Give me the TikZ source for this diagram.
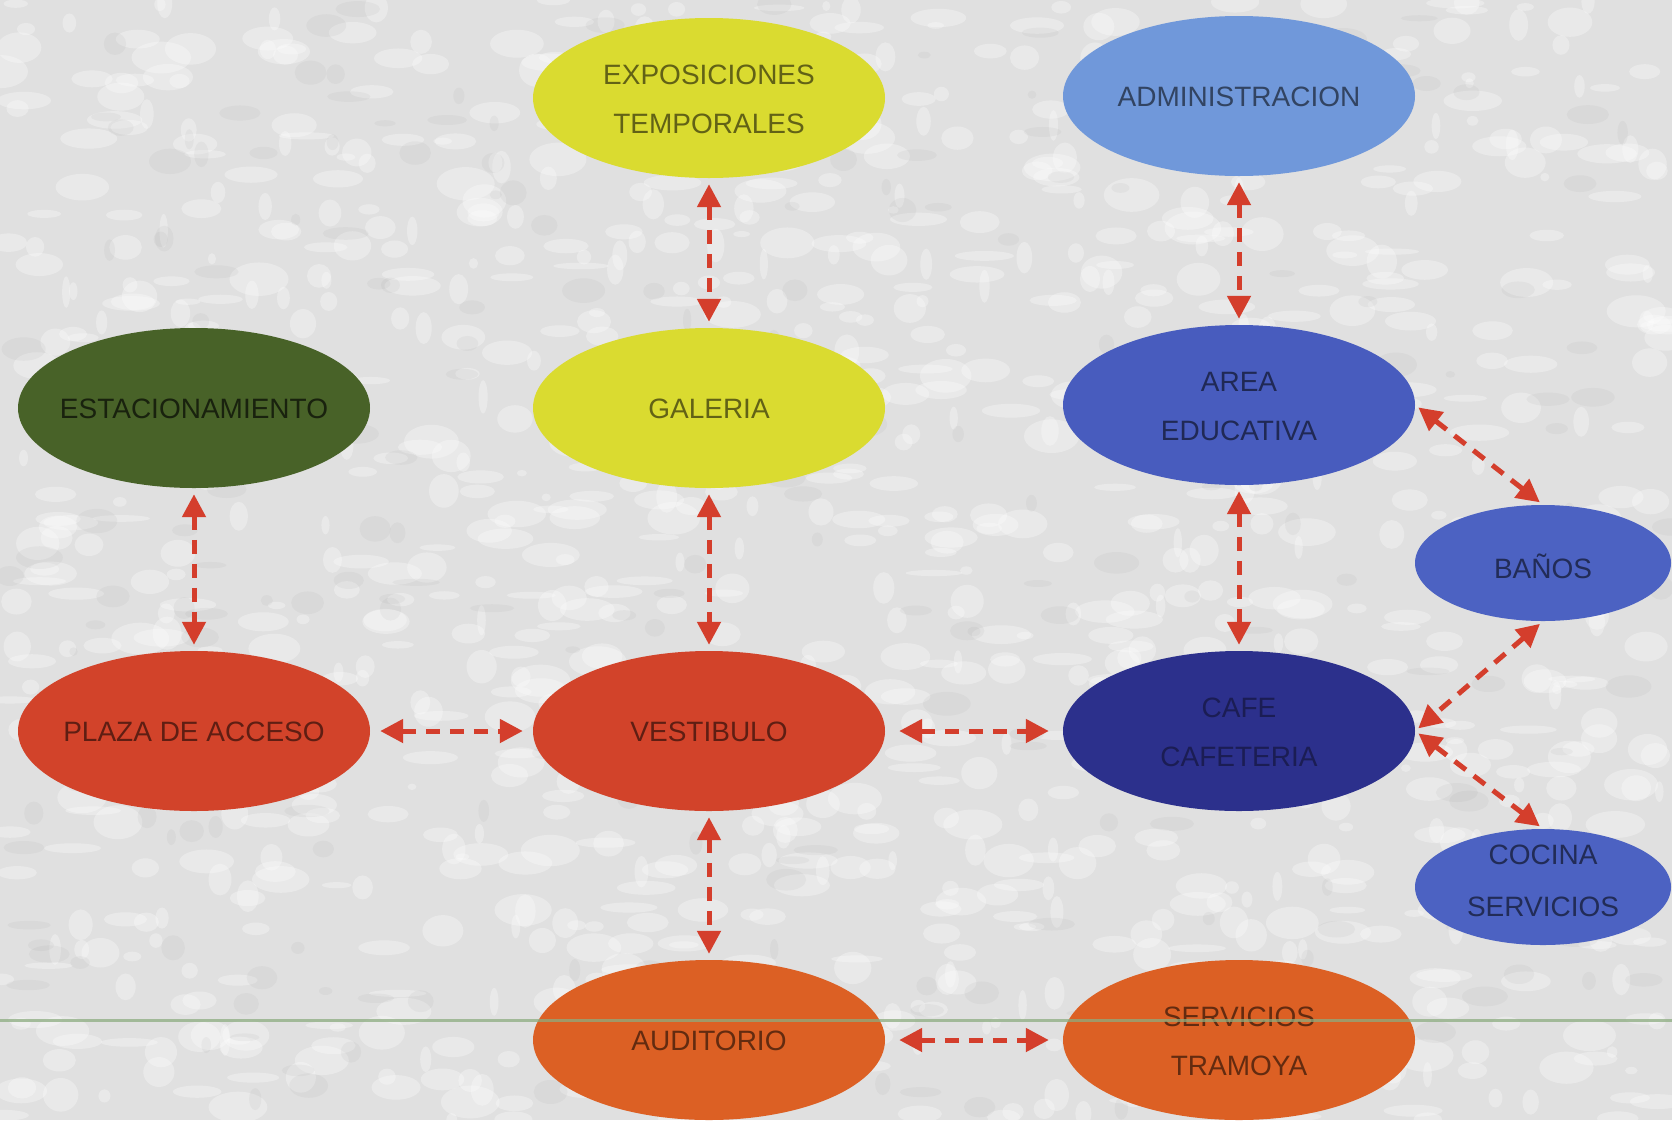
\documentclass[tikz,border=0pt]{standalone}
\usepackage{fontspec}
\setmainfont{Liberation Sans}
\usetikzlibrary{shapes.geometric,arrows.meta}
\definecolor{cyel}{RGB}{218,219,48}
\definecolor{cadm}{RGB}{112,152,218}
\definecolor{cgreen}{RGB}{72,98,40}
\definecolor{cblue}{RGB}{72,92,190}
\definecolor{cblue2}{RGB}{76,98,194}
\definecolor{cnavy}{RGB}{44,48,140}
\definecolor{cred}{RGB}{210,67,42}
\definecolor{corange}{RGB}{220,96,36}
\definecolor{carrow}{RGB}{212,62,44}
\definecolor{cbg}{RGB}{224,224,224}
\definecolor{cline}{RGB}{140,172,128}
\newcommand{\ctext}[2][-7pt]{\makebox[0pt]{\smash{\raisebox{#1}{\begin{tabular}{@{}c@{}}#2\end{tabular}}}}}
\tikzset{
  zone/.style={ellipse, fill=#1, text=#1!45!black, minimum width=352pt, minimum height=160pt,
    inner sep=0pt, font=\fontsize{28}{49}\selectfont},
  szone/.style={zone=#1, minimum width=256pt, minimum height=116pt, font=\fontsize{28}{52}\selectfont},
  link/.style={draw=carrow, line width=5pt, dash pattern=on 14pt off 10pt,
    {Triangle[length=23pt,width=23pt]}-{Triangle[length=23pt,width=23pt]},
    shorten >=#1, shorten <=#1},
  link/.default=6pt
}
\begin{document}
\begin{tikzpicture}[x=1pt,y=-1pt]
\useasboundingbox (0,0) rectangle (1672,1120);
\clip (0,0) rectangle (1672,1120);
\fill[cbg] (0,0) rectangle (1672,1120);
\pgfmathsetseed{11}
\foreach \i in {1,...,1100}{
  \pgfmathsetmacro\xx{rnd*1672}
  \pgfmathsetmacro\yy{rnd*1120}
  \pgfmathsetmacro\rx{4+rnd*26}
  \pgfmathsetmacro\ry{3+rnd*14}
  \fill[white, opacity=0.3] (\xx,\yy) ellipse [x radius=\rx pt, y radius=\ry pt];
}
\foreach \i in {1,...,250}{
  \pgfmathsetmacro\xx{rnd*1672}
  \pgfmathsetmacro\yy{rnd*1120}
  \pgfmathsetmacro\rx{4+rnd*20}
  \pgfmathsetmacro\ry{3+rnd*10}
  \fill[gray, opacity=0.07] (\xx,\yy) ellipse [x radius=\rx pt, y radius=\ry pt];
}

\node[zone=cyel] (expo) at (709,98) {\ctext{EXPOSICIONES\\TEMPORALES}};
\node[zone=cadm] (admin) at (1239,96) {\ctext{ADMINISTRACION}};
\node[zone=cgreen, text=cgreen!35!black] (estac) at (194,408) {\ctext{ESTACIONAMIENTO}};
\node[zone=cyel] (gal) at (709,408) {\ctext{GALERIA}};
\node[zone=cblue] (area) at (1239,405) {\ctext{AREA\\EDUCATIVA}};
\node[szone=cblue2] (banos) at (1543,563) {\ctext[-11pt]{BAÑOS}};
\node[zone=cred] (plaza) at (194,731) {\ctext{PLAZA DE ACCESO}};
\node[zone=cred] (vest) at (709,731) {\ctext{VESTIBULO}};
\node[zone=cnavy, text=cnavy!60!black] (cafe) at (1239,731) {\ctext{CAFE\\CAFETERIA}};
\node[szone=cblue2] (cocina) at (1543,887) {\ctext[1pt]{COCINA\\SERVICIOS}};
\node[zone=corange] (aud) at (709,1040) {\ctext{AUDITORIO}};
\node[zone=corange] (serv) at (1239,1040) {\ctext{SERVICIOS\\TRAMOYA}};

\draw[link] (expo) -- (gal);
\draw[link] (admin) -- (area);
\draw[link] (estac) -- (plaza);
\draw[link] (gal) -- (vest);
\draw[link] (area) -- (cafe);
\draw[link] (vest) -- (aud);
\draw[link=10pt] (plaza) -- (vest);
\draw[link=14pt] (vest) -- (cafe);
\draw[link=14pt] (aud) -- (serv);
\draw[link=4pt] (area.east) -- (banos.north);
\draw[link=4pt] (banos.south) -- (cafe.east);
\draw[link=4pt] (cafe.east) -- (cocina.north);

\draw[cline, line width=3pt, opacity=0.75] (0,1020) -- (1672,1020);
\end{tikzpicture}
\end{document}
